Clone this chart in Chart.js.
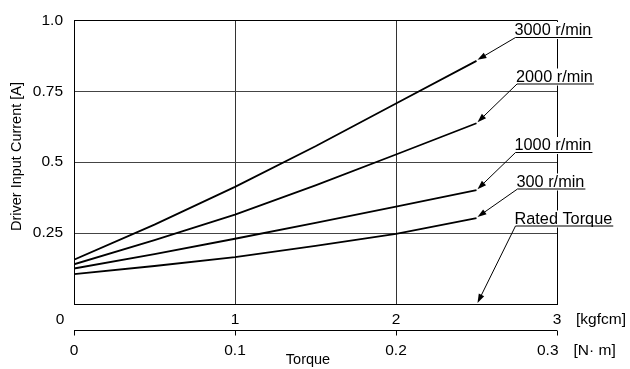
<!DOCTYPE html>
<html>
<head>
<meta charset="utf-8">
<script src="https://cdn.jsdelivr.net/npm/chart.js@4/dist/chart.umd.min.js"></script>
<style>
  body { margin: 0; background: #fff; }
  canvas { display: block; }
</style>
</head>
<body>
<canvas id="currentChart" width="630" height="369"></canvas>
<script>
// Torque points (kgfcm) and driver input current (A) per speed
const torqueKgfcm = [0, 0.5, 1, 1.5, 2, 2.5];
const current3000 = [0.156, 0.280, 0.413, 0.556, 0.707, 0.857];
const current2000 = [0.140, 0.225, 0.315, 0.418, 0.527, 0.637];
const current1000 = [0.125, 0.176, 0.230, 0.286, 0.343, 0.401];
const current300  = [0.105, 0.134, 0.165, 0.205, 0.247, 0.303];
const speedLabels = ['3000 r/min', '2000 r/min', '1000 r/min', '300 r/min'];
const ratedTorque = 2.5;
const ratedLabel = 'Rated Torque';

const kgfcmTicks = [0, 1, 2, 3];
const kgfcmTickLabels = ['0', '1', '2', '3'];
const nmTicks = [0, 0.1, 0.2, 0.3];
const nmTickLabels = ['0', '0.1', '0.2', '0.3'];
const yTickLabels = { 0.25: '0.25', 0.5: '0.5', 0.75: '0.75', 1: '1.0' };

const FONT = '"Liberation Sans", Arial, sans-serif';

// where the speed labels sit (text left, baseline)
const labelSpots = [
    { x: 514.5, y: 35 },
    { x: 516, y: 81.5 },
    { x: 514.5, y: 150 },
    { x: 516.5, y: 186.5 },
    { x: 514.5, y: 223.5 }
];

function drawArrow(ctx, x0, y0, x1, y1) {
    const ang = Math.atan2(y1 - y0, x1 - x0);
    const len = 9, half = 3;
    ctx.beginPath();
    ctx.moveTo(x0, y0);
    ctx.lineTo(x1 - Math.cos(ang) * len * 0.8, y1 - Math.sin(ang) * len * 0.8);
    ctx.stroke();
    ctx.beginPath();
    ctx.moveTo(x1, y1);
    ctx.lineTo(x1 - Math.cos(ang) * len + Math.sin(ang) * half, y1 - Math.sin(ang) * len - Math.cos(ang) * half);
    ctx.lineTo(x1 - Math.cos(ang) * len - Math.sin(ang) * half, y1 - Math.sin(ang) * len + Math.cos(ang) * half);
    ctx.closePath();
    ctx.fill();
}

const extrasPlugin = {
    id: 'extras',
    afterDraw(chart) {
        const ctx = chart.ctx;
        const xs = chart.scales.x;
        const xn = chart.scales.xNm;
        const ys = chart.scales.y;
        const area = chart.chartArea;
        ctx.save();
        ctx.fillStyle = '#000';
        ctx.strokeStyle = '#000';

        // kgfcm labels
        ctx.font = '15.5px ' + FONT;
        ctx.textBaseline = 'alphabetic';
        kgfcmTicks.forEach((v, i) => {
            ctx.textAlign = 'center';
            const px = xs.getPixelForValue(v) + (i === 0 ? -14 : 0);
            ctx.fillText(kgfcmTickLabels[i], px, 323.5);
        });
        ctx.textAlign = 'left';
        ctx.fillText('[kgfcm]', 576, 323.5);

        // N·m axis
        const axY = area.bottom + 26.5;
        ctx.lineWidth = 1;
        ctx.beginPath();
        ctx.moveTo(xn.getPixelForValue(nmTicks[0]), axY);
        ctx.lineTo(xn.getPixelForValue(nmTicks[nmTicks.length - 1]), axY);
        nmTicks.forEach(v => {
            const px = Math.round(xn.getPixelForValue(v)) + 0.5;
            ctx.moveTo(px, axY);
            ctx.lineTo(px, axY + 5);
        });
        ctx.stroke();
        nmTicks.forEach((v, i) => {
            const last = i === nmTicks.length - 1;
            ctx.textAlign = last ? 'right' : 'center';
            ctx.fillText(nmTickLabels[i], xn.getPixelForValue(v) + (last ? 1.5 : 0), 355);
        });
        ctx.textAlign = 'left';
        ctx.fillText('[N\u00b7 m]', 573.5, 355);

        // axis titles
        ctx.font = '14.5px ' + FONT;
        ctx.textAlign = 'center';
        ctx.fillText('Torque', 308, 364);
        ctx.save();
        ctx.translate(21, 156.5);
        ctx.rotate(-Math.PI / 2);
        ctx.fillText('Driver Input Current [A]', 0, 0);
        ctx.restore();

        // speed / rated torque callouts
        const targets = chart.data.datasets.map(ds => ds.data[ds.data.length - 1]);
        targets.push({ x: ratedTorque, y: 0 });
        const texts = speedLabels.concat([ratedLabel]);
        ctx.font = '16.3px ' + FONT;
        ctx.textAlign = 'left';
        texts.forEach((t, i) => {
            const spot = labelSpots[i];
            const w = ctx.measureText(t).width;
            ctx.fillStyle = '#fff';
            ctx.fillRect(spot.x - 1, spot.y - 13, w + 3, 17);
            ctx.fillStyle = '#000';
            ctx.fillText(t, spot.x, spot.y);
            const uy = spot.y + 2.5;
            ctx.lineWidth = 1.2;
            ctx.beginPath();
            ctx.moveTo(spot.x + 1, uy);
            ctx.lineTo(spot.x + w + 1, uy);
            ctx.stroke();
            const tx = xs.getPixelForValue(targets[i].x);
            const ty = ys.getPixelForValue(targets[i].y);
            ctx.lineWidth = 1;
            drawArrow(ctx, spot.x + 1, uy, tx + 1, ty - 1);
        });
        ctx.restore();
    }
};

const toPoints = vals => torqueKgfcm.map((t, i) => ({ x: t, y: vals[i] }));
const lineStyle = { borderColor: '#000', borderWidth: 1.8, pointRadius: 0, tension: 0, fill: false };

new Chart(document.getElementById('currentChart').getContext('2d'), {
    type: 'line',
    data: {
        datasets: [
            { label: speedLabels[0], data: toPoints(current3000), ...lineStyle },
            { label: speedLabels[1], data: toPoints(current2000), ...lineStyle },
            { label: speedLabels[2], data: toPoints(current1000), ...lineStyle },
            { label: speedLabels[3], data: toPoints(current300), ...lineStyle }
        ]
    },
    options: {
        responsive: false,
        animation: false,
        layout: { padding: { top: 17, right: 73, bottom: 65, left: 0 } },
        plugins: { legend: { display: false }, tooltip: { enabled: false } },
        scales: {
            x: {
                type: 'linear', min: 0, max: 3,
                ticks: { display: false, stepSize: 1 },
                grid: {
                    drawTicks: false,
                    color: ctx => (ctx.tick && ctx.tick.value === 3 ? '#000' : '#333'),
                    lineWidth: 1
                },
                border: { display: true, color: '#000', width: 1 },
                afterFit: s => { s.height = 0; }
            },
            xNm: {
                type: 'linear', axis: 'x', position: 'bottom', min: 0, max: 0.3, display: false
            },
            y: {
                min: 0, max: 1,
                ticks: {
                    stepSize: 0.25, padding: 11, color: '#000',
                    font: { family: FONT, size: 15.5 },
                    callback: v => yTickLabels[v] || ''
                },
                grid: {
                    drawTicks: false,
                    color: ctx => (ctx.tick && ctx.tick.value === 1 ? '#000' : '#444'),
                    lineWidth: 1
                },
                border: { display: true, color: '#000', width: 1 },
                afterFit: s => { s.width = 74; }
            }
        }
    },
    plugins: [extrasPlugin]
});
</script>
</body>
</html>
